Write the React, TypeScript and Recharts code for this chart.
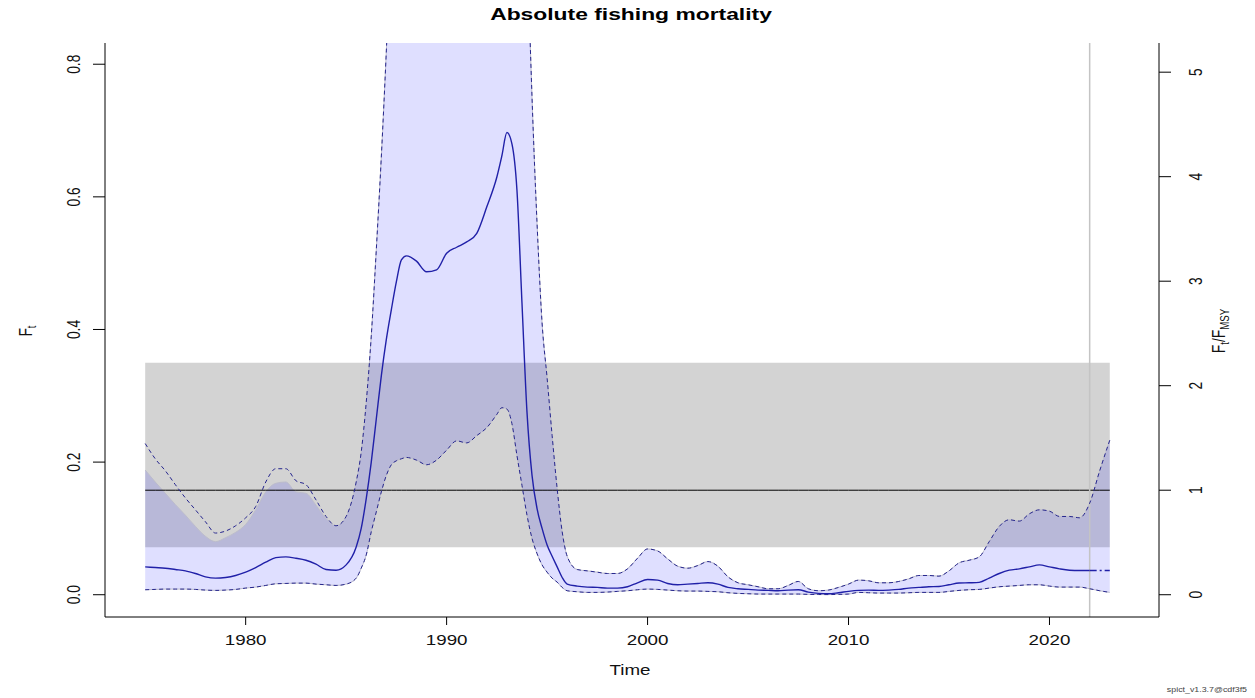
import React from 'react';
import { ComposedChart, Area, Line, XAxis, YAxis, ReferenceLine } from 'recharts';

// ---- data ----
const years = [
  1975, 1975.5, 1976, 1976.5, 1977, 1977.5, 1978, 1978.5, 1979, 1979.5,
  1980, 1980.5, 1981, 1981.5, 1982, 1982.5, 1983, 1983.5, 1984, 1984.5,
  1985, 1985.5, 1985.75, 1986, 1986.25, 1986.5, 1986.75, 1987, 1987.25, 1987.5,
  1987.75, 1988, 1988.5, 1989, 1989.5, 1990, 1990.5, 1991, 1991.5, 1992,
  1992.5, 1992.75, 1993, 1993.25, 1993.5, 1993.75, 1994, 1994.25, 1994.5, 1994.75,
  1995, 1995.25, 1995.5, 1995.75, 1996, 1996.5, 1997, 1997.5, 1998, 1998.5,
  1999, 1999.5, 2000, 2000.5, 2001, 2001.5, 2002, 2002.5, 2003, 2003.5,
  2004, 2004.5, 2005, 2005.5, 2006, 2006.5, 2007, 2007.5, 2008, 2008.5,
  2009, 2009.5, 2010, 2010.5, 2011, 2011.5, 2012, 2012.5, 2013, 2013.5,
  2014, 2014.5, 2015, 2015.5, 2016, 2016.5, 2017, 2017.5, 2018, 2018.5,
  2019, 2019.5, 2020, 2020.5, 2021, 2021.5, 2022, 2022.5, 2023,
];

const upperCI = [
  0.228, 0.205, 0.187, 0.166, 0.146, 0.128, 0.110, 0.093, 0.096, 0.104,
  0.116, 0.133, 0.170, 0.190, 0.190, 0.172, 0.166, 0.143, 0.118, 0.104,
  0.118, 0.170, 0.215, 0.290, 0.390, 0.520, 0.660, 0.820, 1.0, 1.2,
  1.4, 1.55, 1.65, 1.65, 1.7, 1.75, 1.8, 1.85, 1.95, 2.05,
  2.2, 2.3, 2.35, 2.2, 1.8, 1.35, 1.0, 0.75, 0.56, 0.41,
  0.327, 0.24, 0.16, 0.095, 0.058, 0.038, 0.036, 0.034, 0.032, 0.032,
  0.039, 0.055, 0.069, 0.066, 0.054, 0.043, 0.040, 0.044, 0.050, 0.043,
  0.027, 0.018, 0.015, 0.012, 0.009, 0.009, 0.014, 0.020, 0.009, 0.006,
  0.007, 0.011, 0.016, 0.022, 0.021, 0.018, 0.018, 0.020, 0.024, 0.029,
  0.029, 0.028, 0.036, 0.048, 0.052, 0.057, 0.080, 0.103, 0.113, 0.111,
  0.122, 0.128, 0.126, 0.118, 0.118, 0.116, 0.138, 0.187, 0.233,
];

const medianF = [
  0.042, 0.041, 0.040, 0.038, 0.036, 0.032, 0.027, 0.025, 0.026, 0.029,
  0.034, 0.041, 0.049, 0.056, 0.057, 0.055, 0.052, 0.046, 0.038, 0.037,
  0.045, 0.072, 0.100, 0.145, 0.200, 0.265, 0.330, 0.385, 0.430, 0.472,
  0.505, 0.511, 0.503, 0.487, 0.490, 0.515, 0.524, 0.532, 0.545, 0.585,
  0.630, 0.662, 0.697, 0.680, 0.610, 0.440, 0.275, 0.180, 0.130, 0.100,
  0.075, 0.058, 0.042, 0.026, 0.016, 0.013, 0.0115, 0.011, 0.010, 0.010,
  0.012, 0.018, 0.023, 0.022, 0.017, 0.015, 0.016, 0.017, 0.018, 0.016,
  0.011, 0.009, 0.008, 0.007, 0.0065, 0.006, 0.007, 0.0075, 0.004, 0.002,
  0.0015, 0.003, 0.005, 0.0065, 0.007, 0.0065, 0.007, 0.008, 0.010, 0.011,
  0.012, 0.0125, 0.015, 0.0176, 0.018, 0.0186, 0.025, 0.032, 0.037, 0.039,
  0.042, 0.045, 0.042, 0.039, 0.037, 0.0366, 0.0366, 0.0366, 0.0366,
];

const lowerCI = [
  0.0075, 0.008, 0.0085, 0.0085, 0.0085, 0.008, 0.007, 0.0065, 0.007, 0.008,
  0.010, 0.0115, 0.014, 0.0165, 0.017, 0.0175, 0.0175, 0.016, 0.015, 0.014,
  0.016, 0.025, 0.040, 0.060, 0.095, 0.125, 0.155, 0.180, 0.196, 0.202,
  0.205, 0.207, 0.203, 0.196, 0.203, 0.218, 0.232, 0.229, 0.240, 0.252,
  0.272, 0.282, 0.280, 0.258, 0.210, 0.165, 0.120, 0.085, 0.062, 0.045,
  0.034, 0.025, 0.019, 0.011, 0.006, 0.0045, 0.0035, 0.0035, 0.004, 0.005,
  0.006, 0.0075, 0.0085, 0.008, 0.007, 0.006, 0.0055, 0.0055, 0.005, 0.0045,
  0.003, 0.002, 0.0015, 0.001, 0.001, 0.001, 0.001, 0.001, 0.0005, 0.0003,
  0.0002, 0.0005, 0.001, 0.0035, 0.003, 0.0025, 0.0025, 0.0025, 0.003, 0.0035,
  0.0035, 0.0035, 0.005, 0.0065, 0.0075, 0.008, 0.010, 0.012, 0.013, 0.014,
  0.015, 0.015, 0.013, 0.0115, 0.0115, 0.0115, 0.009, 0.006, 0.0035,
];

// upper edge of the shaded CI polygon where it departs from the dashed line (1975-1984)
const fillTopEarly = [
  0.188, 0.170, 0.153, 0.136, 0.120, 0.103, 0.088, 0.080, 0.086, 0.094,
  0.106, 0.128, 0.155, 0.168, 0.170, 0.155, 0.153, 0.135, 0.115,
];

const FMSY = 0.1576;
const FMSY_LO = 0.0714;
const FMSY_HI = 0.35;
const LAST_OBS = 2022;

const xTicks = [1980, 1990, 2000, 2010, 2020];
const leftTicks = [0, 0.2, 0.4, 0.6, 0.8];
const rightTicks = [0, 1, 2, 3, 4, 5];

const X_DOMAIN: [number, number] = [1973.0, 2025.45];
const Y_DOMAIN: [number, number] = [-0.0336, 0.832];

const SX = 1.36;
const FONT = '"Liberation Sans", Arial, sans-serif';
const TICK_FS = 13.8;

function XTick(props: any) {
  const { x, y, payload } = props;
  return (
    <text transform={`translate(${x},${y + 20}) scale(${SX},1)`} textAnchor="middle"
      fontFamily={FONT} fontSize={TICK_FS} fill="#111">{payload.value}</text>
  );
}

function LeftTick(props: any) {
  const { x, y, payload } = props;
  return (
    <text transform={`translate(${x - 13},${y}) scale(${SX},1) rotate(-90)`} textAnchor="middle"
      fontFamily={FONT} fontSize={TICK_FS} fill="#111">{Number(payload.value).toFixed(1)}</text>
  );
}

function RightTick(props: any) {
  const { x, y, payload } = props;
  return (
    <text transform={`translate(${x + 31},${y}) scale(${SX},1) rotate(-90)`} textAnchor="middle"
      fontFamily={FONT} fontSize={TICK_FS} fill="#111">{Math.round(payload.value)}</text>
  );
}

export default function App() {
  const data = years.map((year, i) => ({
    year,
    band: [FMSY_LO, FMSY_HI],
    ci: [lowerCI[i], i < fillTopEarly.length ? fillTopEarly[i] : upperCI[i]],
    upper: upperCI[i],
    lower: lowerCI[i],
    med: year <= LAST_OBS ? medianF[i] : null,
    medFc: year >= LAST_OBS ? medianF[i] : null,
    fmsy: FMSY,
  }));

  return (
    <div style={{ position: 'absolute', left: 0, top: 0, width: 1255, height: 698, background: '#fff' }}>
      <ComposedChart width={1255} height={698} data={data} margin={{ top: 43, right: 0, bottom: 0, left: 0 }}>
        <XAxis dataKey="year" type="number" domain={X_DOMAIN} allowDataOverflow ticks={xTicks} interval={0}
          height={81} tickSize={8} tickMargin={0} tick={<XTick />}
          axisLine={{ stroke: '#000', strokeWidth: 1 }} tickLine={{ stroke: '#000', strokeWidth: 1 }} />
        <XAxis xAxisId="top" orientation="top" dataKey="year" type="number" domain={X_DOMAIN} allowDataOverflow
          height={0} tick={false} tickLine={false} axisLine={{ stroke: '#000', strokeWidth: 1 }} />
        <YAxis yAxisId="left" type="number" domain={Y_DOMAIN} allowDataOverflow ticks={leftTicks} interval={0}
          width={105} tickSize={12} tickMargin={0} tick={<LeftTick />}
          axisLine={{ stroke: '#000', strokeWidth: 1 }} tickLine={{ stroke: '#000', strokeWidth: 1 }} />
        <YAxis yAxisId="right" orientation="right" type="number"
          domain={[Y_DOMAIN[0] / FMSY, Y_DOMAIN[1] / FMSY]} allowDataOverflow ticks={rightTicks} interval={0}
          width={96} tickSize={12} tickMargin={0} tick={<RightTick />}
          axisLine={{ stroke: '#000', strokeWidth: 1 }} tickLine={{ stroke: '#000', strokeWidth: 1 }} />

        <Area yAxisId="left" dataKey="band" type="linear" fill="#d3d3d3" fillOpacity={1} stroke="none"
          isAnimationActive={false} dot={false} activeDot={false} />
        <Area yAxisId="left" dataKey="ci" type="monotone" fill="#0000ff" fillOpacity={0.125}
          stroke="#bcbccc" strokeWidth={1} isAnimationActive={false} dot={false} activeDot={false} />
        <Line yAxisId="left" dataKey="fmsy" type="linear" stroke="#000" strokeWidth={1}
          dot={false} activeDot={false} isAnimationActive={false} />
        <ReferenceLine yAxisId="left" x={LAST_OBS} stroke="#c4c4c4" strokeWidth={1.5} />
        <Line yAxisId="left" dataKey="upper" type="monotone" stroke="#26268e" strokeWidth={1}
          strokeDasharray="4 3" dot={false} activeDot={false} isAnimationActive={false} />
        <Line yAxisId="left" dataKey="lower" type="monotone" stroke="#26268e" strokeWidth={1}
          strokeDasharray="4 3" dot={false} activeDot={false} isAnimationActive={false} />
        <Line yAxisId="left" dataKey="med" type="monotone" stroke="#2020a8" strokeWidth={1.4}
          dot={false} activeDot={false} isAnimationActive={false} connectNulls={false} />
        <Line yAxisId="left" dataKey="medFc" type="monotone" stroke="#2020a8" strokeWidth={1.4}
          strokeDasharray="7 3 2 3" dot={false} activeDot={false} isAnimationActive={false} connectNulls={false} />
      </ComposedChart>

      <svg width={1255} height={698} style={{ position: 'absolute', left: 0, top: 0, pointerEvents: 'none' }}>
        <text transform={`translate(631,19.5) scale(${SX},1)`} textAnchor="middle" fontFamily={FONT}
          fontWeight="bold" fontSize={16.8} fill="#000">Absolute fishing mortality</text>
        <text transform={`translate(630,675) scale(${SX},1)`} textAnchor="middle" fontFamily={FONT}
          fontSize={TICK_FS} fill="#111">Time</text>
        <text transform={`translate(32,331) scale(${SX},1) rotate(-90)`} textAnchor="middle" fontFamily={FONT}
          fontSize={TICK_FS} fill="#111">
          <tspan>F</tspan><tspan dy={3} fontSize={9.7}>t</tspan>
        </text>
        <text transform={`translate(1225,331) scale(${SX},1) rotate(-90)`} textAnchor="middle" fontFamily={FONT}
          fontSize={TICK_FS} fill="#111">
          <tspan>F</tspan><tspan dy={3} fontSize={9.7}>t</tspan><tspan dy={-3}>/F</tspan><tspan dy={3} fontSize={9.7}>MSY</tspan>
        </text>
        <text transform={`translate(1247,692) scale(${SX},1)`} textAnchor="end" fontFamily={FONT}
          fontSize={6.5} fill="#444">spict_v1.3.7@cdf3f5</text>
      </svg>
    </div>
  );
}
